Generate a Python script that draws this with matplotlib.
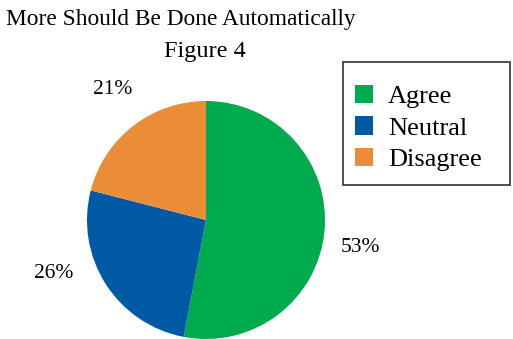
import matplotlib.pyplot as plt
from matplotlib.patches import Patch, Rectangle

labels = ['Agree', 'Neutral', 'Disagree']
values = [53, 26, 21]
colors = ['#00ab4e', '#0059a4', '#eb8c38']
pct_labels = ['53%', '26%', '21%']
# positions of the percent labels (pixels from top-left)
pct_pos = [(360, 247), (54, 274), (113, 90)]

W, H = 513, 339
plt.rcParams['font.family'] = ['Liberation Serif', 'DejaVu Serif']

fig = plt.figure(figsize=(W / 100, H / 100), dpi=100)

# pie axes: centre (206, 220), radius 119 px
cx, cy, r = 206, 220, 119
ax = fig.add_axes([(cx - r) / W, (H - cy - r) / H, 2 * r / W, 2 * r / H])
ax.pie(values, colors=colors, startangle=90, counterclock=False, radius=1)
ax.set_xlim(-1, 1)
ax.set_ylim(-1, 1)
ax.set_aspect('auto')
ax.axis('off')

fig.text(181 / W, 1 - 19 / H, 'More Should Be Done Automatically',
         ha='center', va='center', fontsize=16.8)
fig.text(205 / W, 1 - 52 / H, 'Figure 4', ha='center', va='center', fontsize=17.5)

for t, (x, y) in zip(pct_labels, pct_pos):
    fig.text(x / W, 1 - y / H, t, ha='center', va='center', fontsize=15.5)

# legend box drawn by hand, legend itself without frame
fig.patches.append(Rectangle((343 / W, 1 - 185 / H), 167 / W, 123 / H,
                             transform=fig.transFigure, fill=False,
                             edgecolor='#333333', linewidth=1.2))

handles = [Patch(facecolor=c, edgecolor='none') for c in colors]
leg = fig.legend(handles, labels, loc='upper left',
                 bbox_to_anchor=(355 / W, 1 - 85 / H), fontsize=19,
                 frameon=False, handlelength=0.7, handleheight=0.7,
                 handletextpad=0.55, labelspacing=0.3,
                 borderpad=0, borderaxespad=0)

fig.savefig('out.png', dpi=100)
